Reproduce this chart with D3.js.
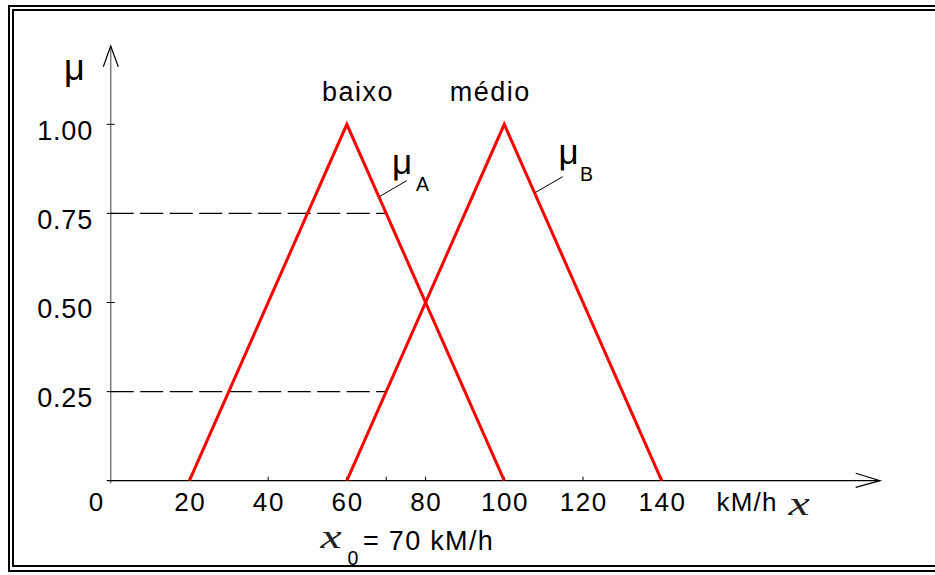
<!DOCTYPE html>
<html><head><meta charset="utf-8">
<script src="https://cdn.jsdelivr.net/npm/d3@7"></script>
<style>
html,body{margin:0;padding:0;background:#fff;}
svg{display:block;}
text{font-family:"Liberation Sans",Arial,sans-serif;fill:#000;}
</style></head>
<body>
<svg id="chart" width="935" height="575"></svg>
<script>
// ---- data ----
const categories = ["baixo", "médio"];
const baixoPoints = [[20, 0], [60, 1], [100, 0]];
const medioPoints = [[60, 0], [100, 1], [140, 0]];
const seriesLabels = ["A", "B"];
const xTickValues = [0, 20, 40, 60, 70, 80, 100, 120, 140];
const xLabelValues = [0, 20, 40, 60, 80, 100, 120, 140];
const xLabelTexts = ["0", "20", "40", "60", "80", "100", "120", "140"];
const yTickValues = [0.25, 0.5, 0.75, 1.0];
const yLabelTexts = ["0.25", "0.50", "0.75", "1.00"];
const cutLevels = [0.75, 0.25];
const x0Value = 70;
const unitText = "kM/h";

// ---- layout ----
const svg = d3.select("#chart");
const x = d3.scaleLinear().domain([0, 140]).range([110.7, 661.7]);
const y = d3.scaleLinear().domain([0, 1]).range([480.7, 124.3]);

// double frame
svg.append("rect").attr("x", 9).attr("y", 6).attr("width", 960).attr("height", 565)
  .attr("fill", "none").attr("stroke", "#000").attr("stroke-width", 2);
svg.append("rect").attr("x", 13).attr("y", 10).attr("width", 960).attr("height", 556)
  .attr("fill", "none").attr("stroke", "#000").attr("stroke-width", 2);

// y axis (gray) with arrow
const yAxisX = x(0);
svg.append("line").attr("x1", yAxisX).attr("x2", yAxisX).attr("y1", 46).attr("y2", y(0) + 2.5)
  .attr("stroke", "#7a7a7a").attr("stroke-width", 1.5);
svg.append("path").attr("d", `M${yAxisX - 7.4},66.7 L${yAxisX},46 L${yAxisX + 7.6},66.7`)
  .attr("fill", "none").attr("stroke", "#000").attr("stroke-width", 1.2);

// x axis with arrow
svg.append("line").attr("x1", x(0) - 4).attr("x2", 880).attr("y1", y(0)).attr("y2", y(0))
  .attr("stroke", "#000").attr("stroke-width", 1.3);
svg.append("path").attr("d", `M855.7,${y(0) - 7.4} L880,${y(0)} L855.7,${y(0) + 6.6}`)
  .attr("fill", "none").attr("stroke", "#000").attr("stroke-width", 1.2);

// x ticks (upward)
svg.selectAll(".xt").data(xTickValues.filter(d => d !== 0)).join("line")
  .attr("x1", d => x(d)).attr("x2", d => x(d)).attr("y1", y(0)).attr("y2", y(0) - 4)
  .attr("stroke", "#000").attr("stroke-width", 1);

// x labels
svg.selectAll(".xl").data(xLabelValues).join("text")
  .attr("x", d => d === 0 ? x(d) - 6 : x(d))
  .attr("y", 510.5)
  .attr("text-anchor", d => d === 0 ? "end" : "middle")
  .attr("font-size", 26).attr("letter-spacing", 1.6)
  .attr("dx", d => d === 0 ? 0 : 0.8)
  .text((d, i) => xLabelTexts[i]);

svg.append("text").attr("x", 716.5).attr("y", 510.5).attr("font-size", 26).attr("letter-spacing", 1.2)
  .text(unitText);

// script-like variable symbol (widened italic x)
function scriptX(cx, baseline) {
  svg.append("text")
    .attr("transform", `translate(${cx},${baseline}) scale(1.45,1)`)
    .attr("text-anchor", "middle").attr("font-size", 33)
    .attr("font-style", "italic").style("font-family", "'Liberation Serif',serif")
    .style("fill", "#222")
    .text("x");
}
scriptX(799, 515);

// y ticks and labels
svg.selectAll(".yt").data(yTickValues).join("line")
  .attr("x1", yAxisX - 4).attr("x2", yAxisX + 4).attr("y1", d => y(d)).attr("y2", d => y(d))
  .attr("stroke", "#000").attr("stroke-width", 1);
svg.selectAll(".yl").data(yTickValues).join("text")
  .attr("x", 93).attr("y", d => y(d) + 15.5)
  .attr("text-anchor", "end").attr("font-size", 27).attr("letter-spacing", 0.8)
  .text((d, i) => yLabelTexts[i]);

// y-axis symbol
svg.append("text").attr("x", 64).attr("y", 79.5).attr("font-size", 36).text("μ");

// dashed cut lines
svg.selectAll(".cut").data(cutLevels).join("line")
  .attr("x1", x(0)).attr("x2", x(x0Value)).attr("y1", d => y(d)).attr("y2", d => y(d))
  .attr("stroke", "#000").attr("stroke-width", 1.3).attr("stroke-dasharray", "23,6.5");

// triangles
const line = d3.line().x(d => x(d[0])).y(d => y(d[1]));
svg.selectAll(".tri").data([baixoPoints, medioPoints]).join("path")
  .attr("d", line).attr("fill", "none").attr("stroke", "#ff0000")
  .attr("stroke-width", 3).attr("stroke-linejoin", "miter");

// category labels
svg.append("text").attr("x", x(baixoPoints[1][0]) - 24.8).attr("y", 100.5)
  .attr("font-size", 27).attr("letter-spacing", 1.5).text(categories[0]);
svg.append("text").attr("x", x(medioPoints[1][0]) - 54.5).attr("y", 100.5)
  .attr("font-size", 27).attr("letter-spacing", 1.5).text(categories[1]);

// mu_A, mu_B labels with leader lines
const leaders = [
  {p: [379.3, 196.7], q: [406.7, 180.7], mu: [392, 174], sub: [416, 190.5], s: seriesLabels[0]},
  {p: [535, 192.7], q: [562.7, 176.7], mu: [558.5, 164], sub: [580, 181], s: seriesLabels[1]}
];
leaders.forEach(l => {
  svg.append("line").attr("x1", l.p[0]).attr("y1", l.p[1]).attr("x2", l.q[0]).attr("y2", l.q[1])
    .attr("stroke", "#000").attr("stroke-width", 1);
  svg.append("text").attr("x", l.mu[0]).attr("y", l.mu[1]).attr("font-size", 35).text("μ");
  svg.append("text").attr("x", l.sub[0]).attr("y", l.sub[1]).attr("font-size", 19.5).text(l.s);
});

// x0 annotation
scriptX(331, 548);
svg.append("text").attr("x", 347.5).attr("y", 564.5).attr("font-size", 19.5).text("0");
svg.append("text").attr("x", 363).attr("y", 549.5).attr("font-size", 27).attr("letter-spacing", 1.3)
  .text("= " + x0Value + " " + unitText);
</script>
</body></html>
